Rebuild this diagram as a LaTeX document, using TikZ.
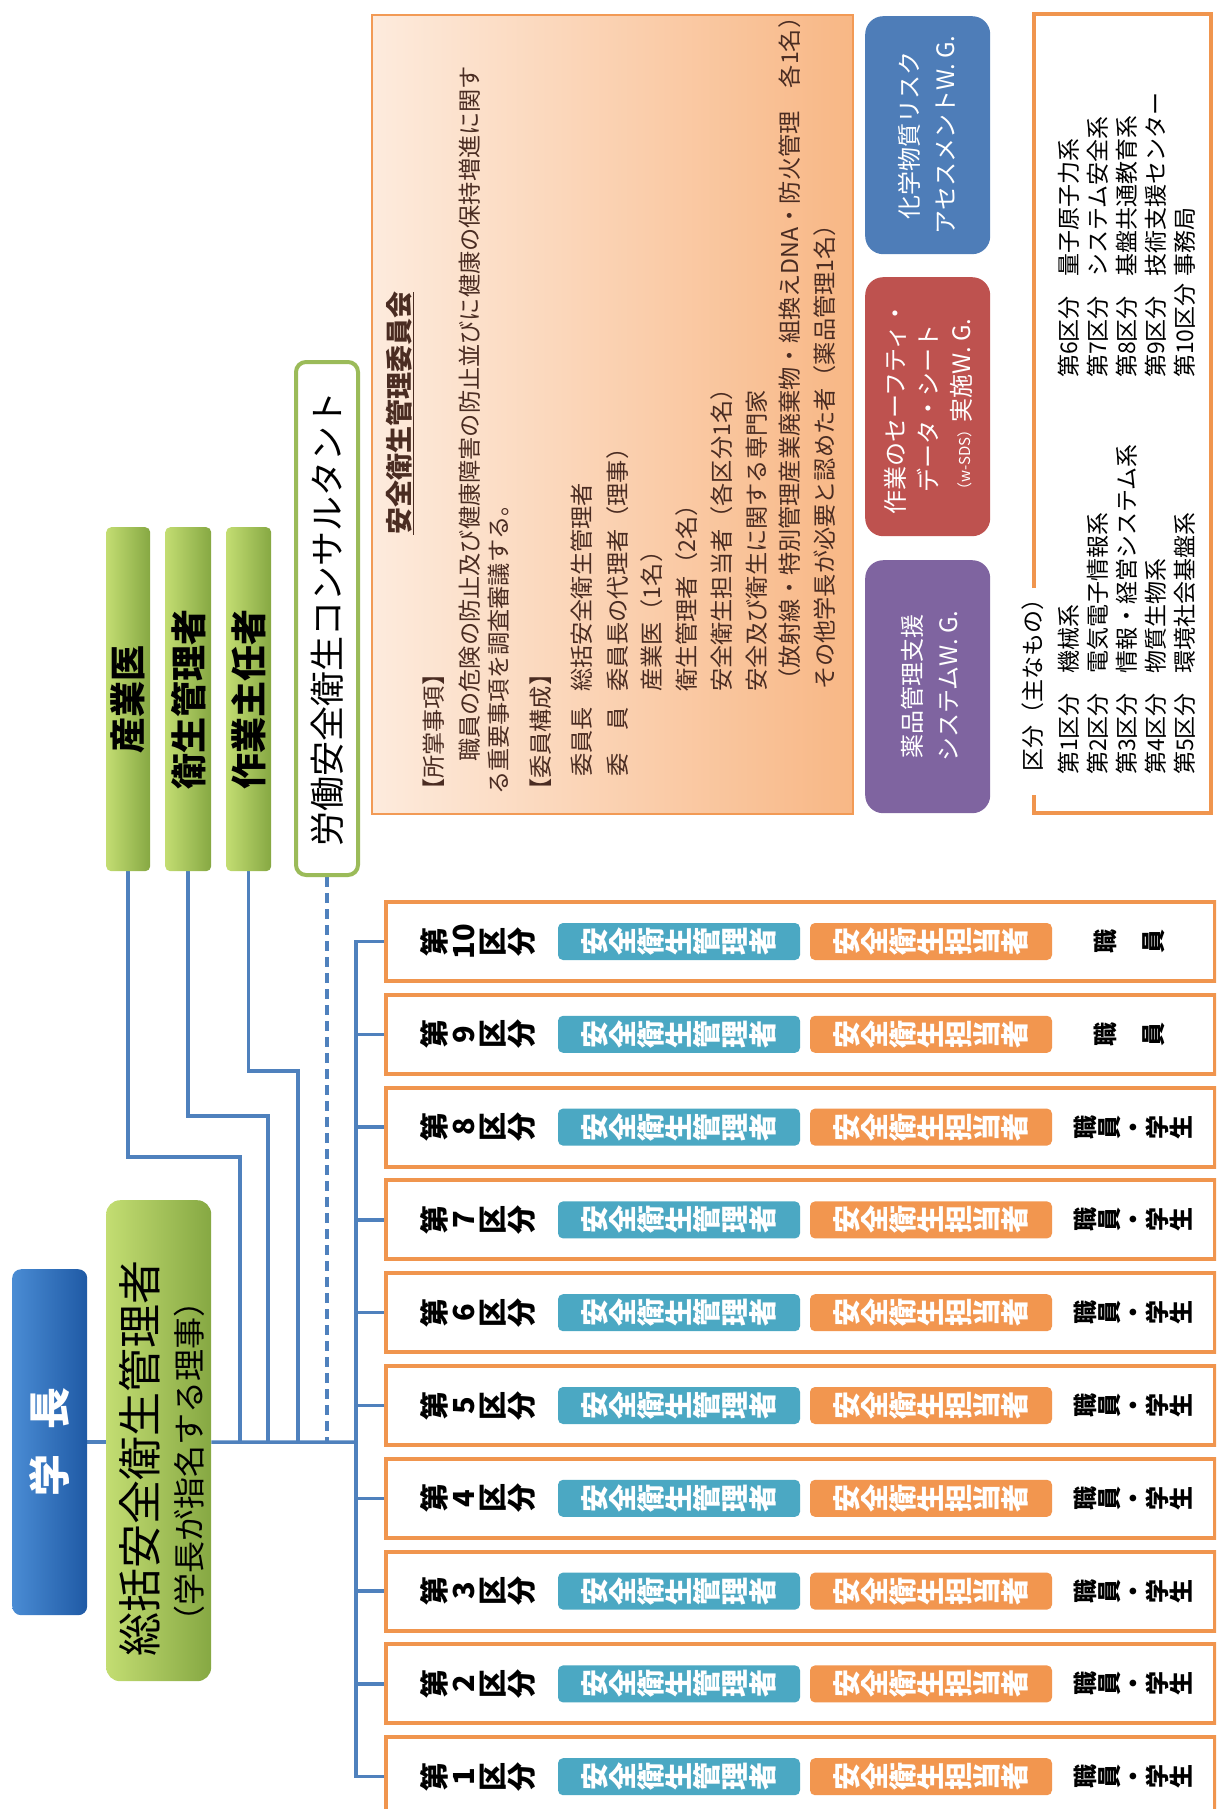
\documentclass[tikz,border=0pt]{standalone}
\usepackage{fontspec}
\setmainfont{Noto Sans CJK JP}
\usepackage{graphicx}
\usetikzlibrary{calc,backgrounds}

\definecolor{lineblue}{HTML}{4F81BD}
\definecolor{roworange}{HTML}{F0954E}
\definecolor{tealc}{HTML}{4BA8C3}
\definecolor{suborange}{HTML}{F2964F}
\definecolor{greenborder}{HTML}{9BBB59}
\definecolor{gL}{HTML}{C3DD72}
\definecolor{gR}{HTML}{86A843}
\definecolor{bL}{HTML}{4A8CD4}
\definecolor{bR}{HTML}{1F5AA5}
\definecolor{cmL}{HTML}{FDEBDD}
\definecolor{cmR}{HTML}{F8B785}
\definecolor{cmBorder}{HTML}{F29A55}
\definecolor{cmText}{HTML}{4A2C22}
\definecolor{wgBlue}{HTML}{4E7DB8}
\definecolor{wgRed}{HTML}{BE524F}
\definecolor{wgPurple}{HTML}{7F64A0}

\newcommand\vchar[1]{\rotatebox{90}{\rule[-0.12em]{0pt}{1em}\makebox[1em]{#1}}}
\def\vtxt#1{\vtxtloop#1\relax}
\def\vtxtloop#1{\ifx#1\relax\else\vchar{#1}\expandafter\vtxtloop\fi}

\begin{document}
\begin{tikzpicture}[x=1pt,y=-1pt,
  abs/.style={inner sep=0pt, anchor=north west},
  conn/.style={draw=lineblue, line width=3.5pt},
  greenbox/.style={abs, rounded corners=5pt, left color=gL, right color=gR},
  rowbox/.style={draw=roworange, line width=4pt, fill=white, inner sep=0pt, anchor=north west, minimum width=829pt, minimum height=79pt},
  rowlab/.style={font=\bfseries\fontsize{29}{29}\selectfont, inner sep=0pt},
  mgr/.style={fill=tealc, rounded corners=5pt, minimum width=242pt, minimum height=37pt, inner sep=0pt, text=white, font=\bfseries\fontsize{28}{28}\selectfont},
  tantou/.style={mgr, fill=suborange},
  who/.style={font=\bfseries\fontsize{24}{24}\selectfont, inner sep=0pt},
  ctext/.style={rotate=90, anchor=west, inner sep=0pt, text=cmText, font=\fontsize{23.2}{23.2}\selectfont},
  ktext/.style={rotate=90, anchor=west, inner sep=0pt, font=\fontsize{23}{23}\selectfont},
  wgbox/.style={abs, rounded corners=18pt, minimum width=125pt},
  wgtext/.style={rotate=90, align=center, inner sep=0pt, text=white, font=\fontsize{24}{36}\selectfont}
]
\useasboundingbox (0,0) rectangle (1216,1809);
\clip (0,0) rectangle (1216,1809);

% ---------- 学長 / 総括 ----------
\node[abs, rounded corners=9pt, left color=bL, right color=bR, minimum width=75pt, minimum height=346pt] (gakucho) at (12,1269) {};
\node[rotate=90, text=white, inner sep=0pt, font=\bfseries\fontsize{42}{42}\selectfont] (gakucho-t) at (gakucho.center) {学\hspace{0.6em}長};

\node[greenbox, rounded corners=14pt, minimum width=105pt, minimum height=481pt] (sokatsu) at (106,1200) {};
\node[rotate=90, inner sep=0pt, font=\fontsize{44}{44}\selectfont] (sokatsu-t1) at (140,1458) {総括安全衛生管理者};
\node[rotate=90, inner sep=0pt, font=\fontsize{32}{32}\selectfont] (sokatsu-t2) at (189,1461) {（学長が指名する理事）};

% ---------- staff boxes ----------
\node[greenbox, minimum width=44pt, minimum height=344pt] (sangyoi) at (106,527) {};
\node[greenbox, minimum width=46pt, minimum height=344pt] (eisei) at (165,527) {};
\node[greenbox, minimum width=45pt, minimum height=344pt] (sagyo) at (226,527) {};
\node[rotate=90, inner sep=0pt, font=\bfseries\fontsize{36}{36}\selectfont] (sangyoi-t) at (sangyoi.center) {産業医};
\node[rotate=90, inner sep=0pt, font=\bfseries\fontsize{36}{36}\selectfont] (eisei-t) at (eisei.center) {衛生管理者};
\node[rotate=90, inner sep=0pt, font=\bfseries\fontsize{36}{36}\selectfont] (sagyo-t) at (sagyo.center) {作業主任者};

\node[abs, draw=greenborder, line width=4pt, fill=white, rounded corners=10pt, minimum width=62pt, minimum height=513pt] (consul) at (294,360) {};
\node[rotate=90, inner sep=0pt, font=\fontsize{35}{35}\selectfont] (consul-t) at (consul.center) {労働安全衛生コンサルタント};

% ---------- committee ----------
\node[abs, draw=cmBorder, line width=2pt, left color=cmL, right color=cmR, minimum width=481pt, minimum height=799pt] (committee) at (371,14) {};
\node[rotate=90, inner sep=0pt, text=cmText, font=\bfseries\fontsize{27}{27}\selectfont] (ctitle) at (400,413) {\underline{安全衛生管理委員会}};
\node[ctext] (c1) at (434,802) {【所掌事項】};
\node[ctext] (c2) at (470,762) {職員の危険の防止及び健康障害の防止並びに健康の保持増進に関す};
\node[ctext] (c3) at (499,795) {る重要事項を調査審議する。};
\node[ctext] (c4) at (541,802) {【委員構成】};
\node[ctext] (c5) at (582,777) {\makebox[85pt][l]{委員長}総括安全衛生管理者};
\node[ctext] (c6) at (618,777) {\makebox[85pt][l]{委　員}委員長の代理者（理事）};
\node[ctext] (c7) at (652,692) {産業医（1名）};
\node[ctext] (c8) at (687,692) {衛生管理者（2名）};
\node[ctext] (c9) at (722,692) {安全衛生担当者（各区分1名）};
\node[ctext] (c10) at (757,692) {安全及び衛生に関する専門家};
\node[ctext] (c11) at (790,692) {（放射線・特別管理産業廃棄物・組換えDNA・防火管理　各1名）};
\node[ctext] (c12) at (825,690) {その他学長が必要と認めた者（薬品管理1名）};

% ---------- working groups ----------
\node[wgbox, fill=wgBlue, minimum height=238pt] (wg1) at (865,16) {};
\node[wgtext] (wg1-t) at (927,135) {化学物質リスク\\アセスメントW.\ G.};
\node[wgbox, fill=wgRed, minimum height=259pt] (wg2) at (865,277) {};
\node[wgtext, font=\fontsize{24}{33}\selectfont] (wg2-t) at (928,408) {作業のセーフティ・\\データ・シート\\{\fontsize{15}{15}\selectfont（w-SDS）}実施W.\ G.};
\node[wgbox, fill=wgPurple, minimum height=253pt] (wg3) at (865,560) {};
\node[wgtext] (wg3-t) at (930,686) {薬品管理支援\\システムW.\ G.};

% ---------- divisions list ----------
\draw[roworange, line width=4.5pt] (1034,588) -- (1034,14) -- (1211,14) -- (1211,813) -- (1034,813) -- (1034,795);
\node[ktext] (ktitle) at (1033,772) {区分（主なもの）};
\node[ktext] (k1) at (1069,775) {\makebox[4.4em][l]{第1区分}機械系};
\node[ktext] (k2) at (1098,775) {\makebox[4.4em][l]{第2区分}電気電子情報系};
\node[ktext] (k3) at (1127,775) {\makebox[4.4em][l]{第3区分}情報・経営システム系};
\node[ktext] (k4) at (1156,775) {\makebox[4.4em][l]{第4区分}物質生物系};
\node[ktext] (k5) at (1185,775) {\makebox[4.4em][l]{第5区分}環境社会基盤系};
\node[ktext] (k6) at (1069,378) {\makebox[4.4em][l]{第6区分}量子原子力系};
\node[ktext] (k7) at (1098,378) {\makebox[4.4em][l]{第7区分}システム安全系};
\node[ktext] (k8) at (1127,378) {\makebox[4.4em][l]{第8区分}基盤共通教育系};
\node[ktext] (k9) at (1156,378) {\makebox[4.4em][l]{第9区分}技術支援センター};
\node[ktext] (k10) at (1185,378) {\makebox[4.4em][l]{第10区分}事務局};

% ---------- division rows ----------
\foreach \i in {1,...,10}{
  \pgfmathsetmacro\rt{900+(10-\i)*92.8}
  \node[rowbox] (r\i) at (384,\rt) {};
  \node[rowlab] (r\i-l) at ($(r\i.west)+(94,0)$) {\vtxt{第{\i}区分}};
  \node[mgr] (r\i-m) at ($(r\i.west)+(295,0)$) {\vtxt{安全衛生管理者}};
  \node[tantou] (r\i-t) at ($(r\i.west)+(547,0)$) {\vtxt{安全衛生担当者}};
  \ifnum\i>8
    \node[who] (r\i-w) at ($(r\i.west)+(745,0)$) {\vtxt{職　員}};
  \else
    \node[who] (r\i-w) at ($(r\i.west)+(749,0)$) {\vtxt{職員・学生}};
  \fi
}

% ---------- connectors ----------
\coordinate (bus) at (356,1442);
\coordinate (kk1) at (240,1157);
\coordinate (kk2) at (268,1116);
\coordinate (kk3) at (298,1071);
\begin{scope}[on background layer]
\draw[conn] (gakucho.east) -- (gakucho.east -| sokatsu.west);
\draw[conn] (gakucho.east -| sokatsu.east) -- (bus);
\draw[conn] (sangyoi.south) |- (kk1) -- (kk1 |- bus);
\draw[conn] (eisei.south) |- (kk2) -- (kk2 |- bus);
\draw[conn] (sagyo.south) |- (kk3) -- (kk3 |- bus);
\draw[conn, dash pattern=on 10pt off 6pt] (consul.south) -- (consul.south |- bus);
\draw[conn] (r10.west) -- (bus |- r10.west) -- (bus |- r1.west) -- (r1.west);
\foreach \i in {2,...,9}{\draw[conn] (bus |- r\i.west) -- (r\i.west);}
\end{scope}
\end{tikzpicture}
\end{document}
